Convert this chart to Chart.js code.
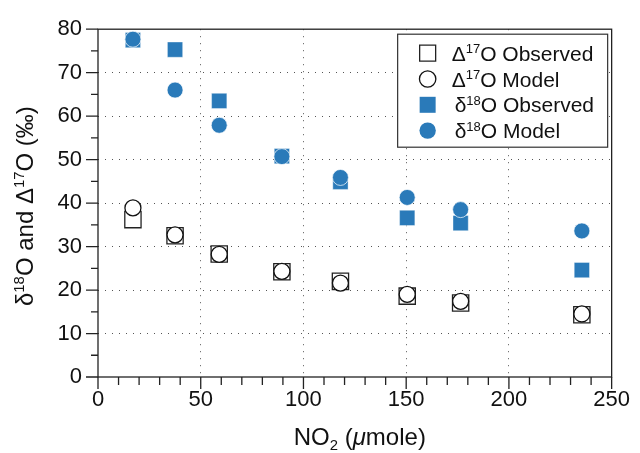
<!DOCTYPE html>
<html>
<head>
<meta charset="utf-8">
<script src="https://cdn.jsdelivr.net/npm/chart.js@4.4.1/dist/chart.umd.min.js"></script>
<style>
  body { margin: 0; background: #fff; }
  canvas { display: block; }
</style>
</head>
<body>
<canvas id="myChart" width="640" height="453"></canvas>
<script>
var FONT = '"Liberation Sans", Arial, sans-serif';
var BLUE = '#2a7ab9';

// NO2 amount (umole) for each experiment
var no2 = [17, 37.5, 59, 89.5, 118, 150.5, 176.5, 235.5];
var d17Obs = [36.2, 32.5, 28.3, 24.2, 22.0, 18.6, 17.0, 14.3];
var d17Model = [38.9, 32.7, 28.2, 24.3, 21.6, 19.0, 17.4, 14.5];
var d18Obs = [77.5, 75.3, 63.5, 50.8, 44.9, 36.6, 35.4, 24.6];
var d18Model = [77.7, 66.0, 57.9, 50.7, 45.9, 41.3, 38.5, 33.6];

var xTicks = [0, 50, 100, 150, 200, 250];
var yTicks = [0, 10, 20, 30, 40, 50, 60, 70, 80];

// legend / title text with super- and subscripts
var legendText = [
    [{t: 'Δ'}, {t: '17', sup: true}, {t: 'O Observed'}],
    [{t: 'Δ'}, {t: '17', sup: true}, {t: 'O Model'}],
    [{t: 'δ'}, {t: '18', sup: true}, {t: 'O Observed'}],
    [{t: 'δ'}, {t: '18', sup: true}, {t: 'O Model'}]
];
var yTitle = [{t: 'δ'}, {t: '18', sup: true}, {t: 'O and Δ'}, {t: '17', sup: true}, {t: 'O (‰)'}];
var xTitle = [{t: 'NO'}, {t: '2', sub: true}, {t: ' ('}, {t: 'μ', it: true}, {t: 'mole)'}];

function pts(ys) {
    return no2.map(function(v, i) { return {x: v, y: ys[i]}; });
}

function richWidth(ctx, parts, size) {
    var w = 0;
    parts.forEach(function(p) {
        var s = (p.sup || p.sub) ? size * 0.62 : size;
        ctx.font = (p.it ? 'italic ' : '') + s + 'px ' + FONT;
        w += ctx.measureText(p.t).width;
    });
    return w;
}

function drawRich(ctx, parts, x, y, size) {
    ctx.textAlign = 'left';
    ctx.textBaseline = 'alphabetic';
    parts.forEach(function(p) {
        var s = (p.sup || p.sub) ? size * 0.62 : size;
        ctx.font = (p.it ? 'italic ' : '') + s + 'px ' + FONT;
        var dy = p.sup ? -size * 0.36 : (p.sub ? size * 0.2 : 0);
        ctx.fillText(p.t, x, y + dy);
        x += ctx.measureText(p.t).width;
    });
}

var extras = {
    id: 'extras',
    afterDraw: function(chart) {
        var ctx = chart.ctx, a = chart.chartArea;
        var x = chart.scales.x, y = chart.scales.y;
        ctx.save();
        // frame
        ctx.strokeStyle = '#222';
        ctx.lineWidth = 1.3;
        ctx.strokeRect(a.left, a.top, a.right - a.left, a.bottom - a.top);
        // major + minor ticks
        ctx.beginPath();
        for (var v = 0; v <= 250; v += 10) {
            var px = x.getPixelForValue(v);
            ctx.moveTo(px, a.bottom);
            ctx.lineTo(px, a.bottom + (v % 50 === 0 ? 12 : 8));
        }
        for (var w = 0; w <= 80; w += 5) {
            var py = y.getPixelForValue(w);
            ctx.moveTo(a.left, py);
            ctx.lineTo(a.left - (w % 10 === 0 ? 12 : 7), py);
        }
        ctx.stroke();

        // axis titles
        ctx.fillStyle = '#111';
        var tw = richWidth(ctx, xTitle, 24);
        drawRich(ctx, xTitle, (a.left + a.right) / 2 + 5 - tw / 2, 445, 24);
        ctx.save();
        ctx.translate(33, (a.top + a.bottom) / 2 + 3);
        ctx.rotate(-Math.PI / 2);
        tw = richWidth(ctx, yTitle, 24);
        drawRich(ctx, yTitle, -tw / 2, 0, 24);
        ctx.restore();

        // legend box
        var bx = a.right - 214, by = a.top + 5, bw = 210, bh = 113;
        ctx.fillStyle = '#fff';
        ctx.fillRect(bx, by, bw, bh);
        ctx.strokeStyle = '#333';
        ctx.lineWidth = 1.2;
        ctx.strokeRect(bx, by, bw, bh);
        chart.data.datasets.forEach(function(ds, i) {
            var cy = by + 19 + i * 25.8;
            var cx = bx + 30;
            ctx.fillStyle = ds.backgroundColor;
            ctx.strokeStyle = ds.legendStroke;
            ctx.lineWidth = 1.3;
            ctx.beginPath();
            if (ds.pointStyle === 'rect') {
                ctx.rect(cx - 8, cy - 8, 16, 16);
            } else {
                ctx.arc(cx, cy, 8.2, 0, Math.PI * 2);
            }
            ctx.fill();
            if (ds.legendStroke) ctx.stroke();
            ctx.fillStyle = '#111';
            drawRich(ctx, legendText[i], bx + (i < 2 ? 54 : 57), cy + 7.5, 21);
        });
        ctx.restore();
    }
};

var ctx = document.getElementById('myChart').getContext('2d');
var chart = new Chart(ctx, {
    type: 'scatter',
    data: {
        datasets: [{
            label: 'Δ17O Observed',
            data: pts(d17Obs),
            pointStyle: 'rect',
            pointRadius: 11.5,
            backgroundColor: '#fff',
            borderColor: '#222',
            borderWidth: 1.3,
            legendStroke: '#222',
            order: 2
        }, {
            label: 'Δ17O Model',
            data: pts(d17Model),
            pointStyle: 'circle',
            pointRadius: 8,
            backgroundColor: '#fff',
            borderColor: '#111',
            borderWidth: 1.3,
            legendStroke: '#111',
            order: 1
        }, {
            label: 'δ18O Observed',
            data: pts(d18Obs),
            pointStyle: 'rect',
            pointRadius: 10.8,
            backgroundColor: BLUE,
            borderColor: 'rgba(255,255,255,0.5)',
            borderWidth: 0.8,
            order: 2
        }, {
            label: 'δ18O Model',
            data: pts(d18Model),
            pointStyle: 'circle',
            pointRadius: 8,
            backgroundColor: BLUE,
            borderColor: 'rgba(255,255,255,0.7)',
            borderWidth: 1,
            order: 1
        }]
    },
    options: {
        responsive: false,
        animation: false,
        layout: { padding: { top: 25, right: 25, left: 0, bottom: 0 } },
        plugins: { legend: { display: false }, tooltip: { enabled: false } },
        scales: {
            x: {
                type: 'linear',
                min: 0, max: 250,
                afterFit: function(s) { s.height = 76; },
                afterBuildTicks: function(s) { s.ticks = xTicks.map(function(v) { return {value: v}; }); },
                ticks: { padding: 10, color: '#111', font: { family: FONT, size: 22 } },
                grid: {
                    drawTicks: false,
                    color: function(c) { return (c.tick && (c.tick.value === 0 || c.tick.value === 250)) ? 'transparent' : '#555'; }
                },
                border: { display: false, dash: [1, 6] }
            },
            y: {
                type: 'linear',
                min: 0, max: 80,
                afterFit: function(s) { s.width = 98; },
                afterBuildTicks: function(s) { s.ticks = yTicks.map(function(v) { return {value: v}; }); },
                ticks: { padding: 16, color: '#111', font: { family: FONT, size: 22 } },
                grid: {
                    drawTicks: false,
                    color: function(c) { return (c.tick && (c.tick.value === 0 || c.tick.value === 80)) ? 'transparent' : '#555'; }
                },
                border: { display: false, dash: [1, 6] }
            }
        }
    },
    plugins: [extras]
});
</script>
</body>
</html>
